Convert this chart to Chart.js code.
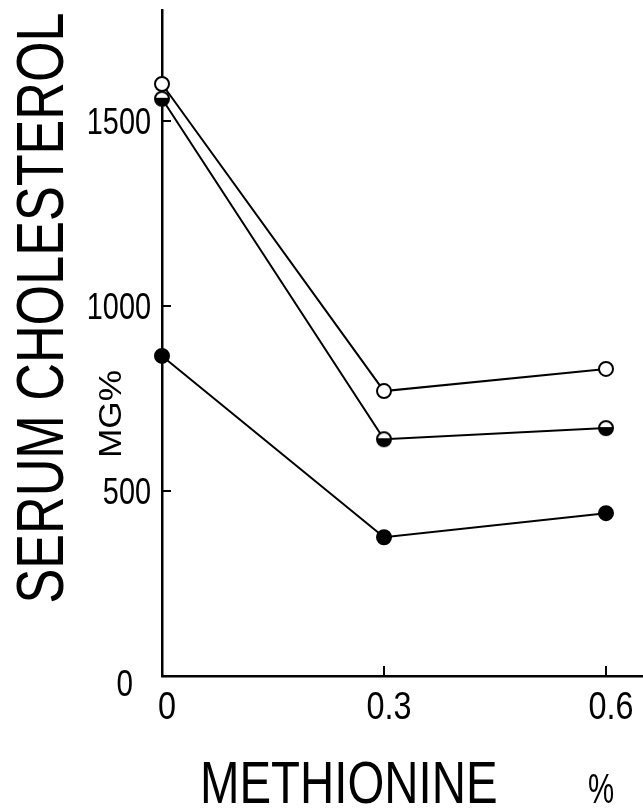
<!DOCTYPE html>
<html>
<head>
<meta charset="utf-8">
<script src="https://cdn.jsdelivr.net/npm/chart.js@4.4.1/dist/chart.umd.min.js"></script>
<style>
  html, body { margin: 0; padding: 0; background: #fff; }
  canvas { display: block; }
</style>
</head>
<body>
<canvas id="chol" width="643" height="808"></canvas>
<script>
const methionine = [0, 0.3, 0.6];
const openCircle = [1600, 770, 830];
const halfCircle = [1560, 640, 670];
const filledCircle = [865, 375, 440];
const yTickValues = [0, 500, 1000, 1500];
const xTickValues = [0, 0.3, 0.6];
const xTickLabels = ['0', '0.3', '0.6'];

const FONT = '"Liberation Sans", Arial, sans-serif';

// half open / half filled marker
const half = document.createElement('canvas');
half.width = 18; half.height = 18;
(function () {
  const c = half.getContext('2d');
  c.beginPath(); c.arc(9, 9, 7, 0, Math.PI * 2); c.fillStyle = '#fff'; c.fill();
  c.beginPath(); c.arc(9, 9, 7, -0.15, Math.PI + 0.15); c.closePath(); c.fillStyle = '#000'; c.fill();
  c.beginPath(); c.arc(9, 9, 7, 0, Math.PI * 2); c.lineWidth = 2; c.strokeStyle = '#000'; c.stroke();
})();

const pts = vals => methionine.map((x, i) => ({ x: x, y: vals[i] }));

// squeezed lettering, like the hand stencil on the original
function txt(ctx, s, x, y, size, sx, align, rot) {
  ctx.save();
  ctx.translate(x, y);
  if (rot) ctx.rotate(rot);
  ctx.scale(sx, 1);
  ctx.font = size + 'px ' + FONT;
  ctx.textAlign = align;
  ctx.fillText(s, 0, 0);
  ctx.restore();
}

const axisDecor = {
  id: 'axisDecor',
  afterDraw(chart) {
    const ctx = chart.ctx, x = chart.scales.x, y = chart.scales.y;
    const x0 = x.getPixelForValue(0), y0 = y.getPixelForValue(0);
    ctx.save();
    ctx.strokeStyle = '#000';
    ctx.lineWidth = 2;
    // inward tick marks
    yTickValues.slice(1).forEach(v => {
      const py = y.getPixelForValue(v);
      ctx.beginPath(); ctx.moveTo(x0, py); ctx.lineTo(x0 + 9, py); ctx.stroke();
    });
    xTickValues.slice(1).forEach(v => {
      const px = x.getPixelForValue(v);
      ctx.beginPath(); ctx.moveTo(px, y0); ctx.lineTo(px, y0 - 10); ctx.stroke();
    });

    ctx.fillStyle = '#000';
    ctx.textBaseline = 'alphabetic';
    // y tick labels
    yTickValues.forEach(v => {
      const py = y.getPixelForValue(v);
      if (v === 0) txt(ctx, '0', x0 - 29, py + 20, 37, 0.8, 'right');
      else txt(ctx, String(v), x0 - 11, py + 13, 37, 0.78, 'right');
    });
    // x tick labels
    xTickValues.forEach((v, i) => {
      txt(ctx, xTickLabels[i], x.getPixelForValue(v) + 5, y0 + 43, 39, 0.83, 'center');
    });

    // axis titles
    txt(ctx, 'SERUM CHOLESTEROL', 63, 308, 66, 0.79, 'center', -Math.PI / 2);
    txt(ctx, 'MG%', 121, 414, 32, 1.1, 'center', -Math.PI / 2);
    txt(ctx, 'METHIONINE', 200, 803, 60, 0.79, 'left');
    txt(ctx, '%', 601, 803, 42, 0.7, 'center');
    ctx.restore();
  }
};

const common = { borderColor: '#000', borderWidth: 2, pointRadius: 7, pointBorderWidth: 2, pointBorderColor: '#000', tension: 0, clip: false };

new Chart(document.getElementById('chol'), {
  type: 'line',
  data: {
    datasets: [
      Object.assign({ data: pts(openCircle), pointStyle: 'circle', pointBackgroundColor: '#fff' }, common),
      Object.assign({ data: pts(halfCircle), pointStyle: half, pointBackgroundColor: '#000' }, common),
      Object.assign({ data: pts(filledCircle), pointStyle: 'circle', pointBackgroundColor: '#000', pointRadius: 7.5 }, common)
    ]
  },
  options: {
    responsive: false,
    animation: false,
    devicePixelRatio: 1,
    layout: { autoPadding: false, padding: { left: 162, right: 0, top: 10, bottom: 132 } },
    plugins: { legend: { display: false }, tooltip: { enabled: false } },
    scales: {
      x: {
        type: 'linear', min: 0, max: 0.65,
        grid: { display: false, drawTicks: false },
        ticks: { display: false },
        border: { display: true, color: '#000', width: 2.5 }
      },
      y: {
        min: 0, max: 1800,
        grid: { display: false, drawTicks: false },
        ticks: { display: false },
        border: { display: true, color: '#000', width: 2.5 }
      }
    }
  },
  plugins: [axisDecor]
});
</script>
</body>
</html>
